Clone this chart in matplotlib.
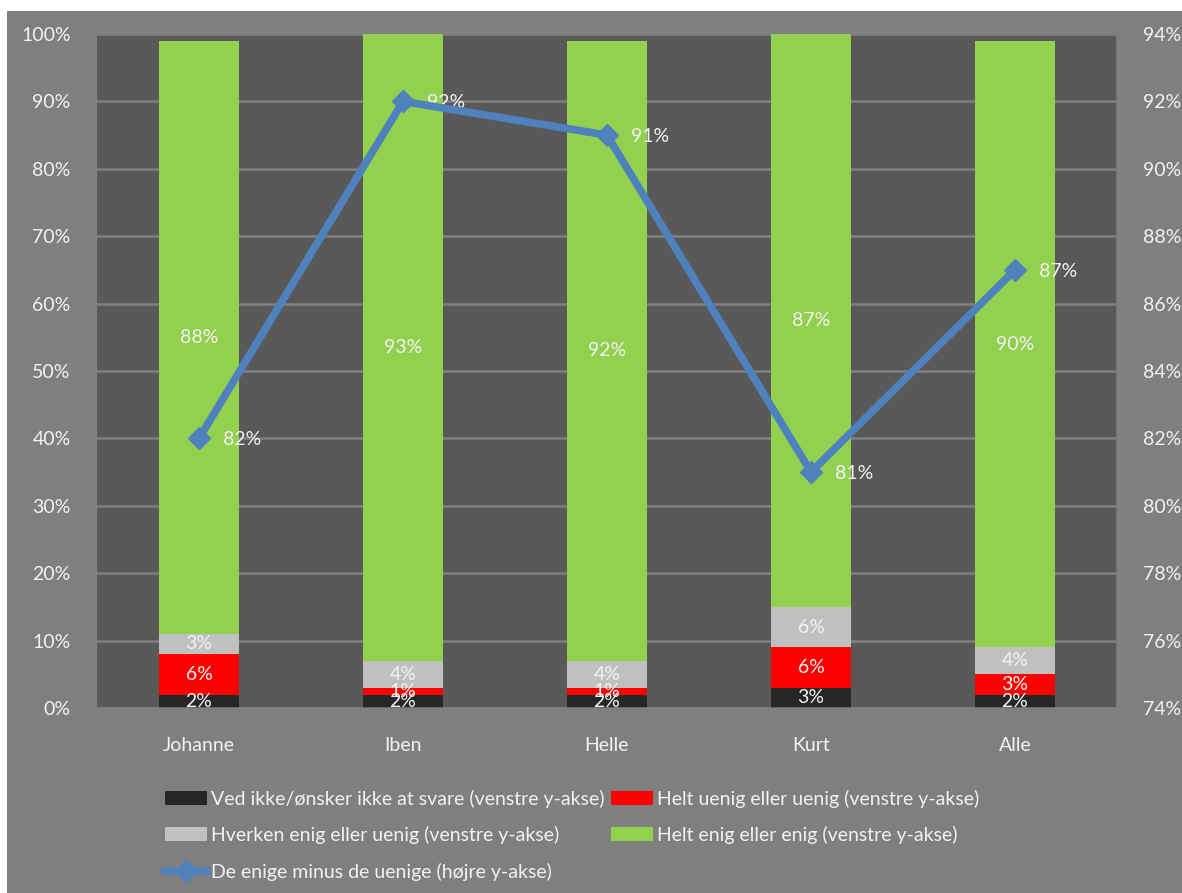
import matplotlib
matplotlib.use("Agg")
import matplotlib.pyplot as plt
import numpy as np
from matplotlib.patches import Rectangle

plt.rcParams["font.family"] = ["Lato", "DejaVu Sans"]

names = ["Johanne", "Iben", "Helle", "Kurt", "Alle"]
ved_ikke = [2, 2, 2, 3, 2]
uenig = [6, 1, 1, 6, 3]
hverken = [3, 4, 4, 6, 4]
enig = [88, 93, 92, 87, 90]
enige_minus_uenige = [82, 92, 91, 81, 87]

series = [
    (ved_ikke, "#262626", "Ved ikke/ønsker ikke at svare (venstre y-akse)"),
    (uenig, "#ff0000", "Helt uenig eller uenig (venstre y-akse)"),
    (hverken, "#c0c0c0", "Hverken enig eller uenig (venstre y-akse)"),
    (enig, "#92d050", "Helt enig eller enig (venstre y-akse)"),
]

text_col = "#f2f2f2"
grid_col = "#808080"
fs = 14

fig = plt.figure(figsize=(11.82, 8.93), dpi=100, facecolor="white")
fig.patches.append(Rectangle((7 / 1182, 0), 1, 1 - 11 / 893, transform=fig.transFigure,
                             facecolor="#7f7f7f", edgecolor="none", zorder=-10))

ax = fig.add_axes([97 / 1182, 1 - 708 / 893, 1020 / 1182, 674 / 893])
ax.set_facecolor("#595959")

x = np.arange(len(names))
bottom = np.zeros(len(names))
handles = []
for vals, col, lab in series:
    bars = ax.bar(x, vals, 0.39, bottom=bottom, color=col, label=lab, zorder=2)
    ax.bar_label(bars, labels=["%d%%" % v for v in vals], label_type="center",
                 color=text_col, fontsize=fs)
    bottom += np.array(vals)
    handles.append(bars)

ax.set_xlim(-0.5, len(names) - 0.5)
ax.set_ylim(0, 100)
ax.set_yticks(np.arange(0, 101, 10))
ax.set_yticklabels(["%d%%" % v for v in range(0, 101, 10)])
ax.set_xticks(x)
ax.set_xticklabels(names)
ax.grid(axis="y", color=grid_col, linewidth=1.8, zorder=0)
ax.set_axisbelow(True)
ax.tick_params(axis="y", colors=grid_col, labelcolor=text_col, labelsize=fs,
               length=7, width=1.8, pad=12)
ax.tick_params(axis="x", length=0, labelcolor=text_col, labelsize=fs, pad=21)
for s in ["top", "left", "right"]:
    ax.spines[s].set_visible(False)
ax.spines["bottom"].set_color(grid_col)
ax.spines["bottom"].set_linewidth(1.8)

ax2 = ax.twinx()
line, = ax2.plot(x, enige_minus_uenige, color="#4f81bd", linewidth=5.5, marker="D",
                 markersize=11, label="De enige minus de uenige (højre y-akse)", zorder=5)
for xi, v in zip(x, enige_minus_uenige):
    ax2.annotate("%d%%" % v, (xi, v), xytext=(17, -1), textcoords="offset points",
                 ha="left", va="center", color=text_col, fontsize=fs)
ax2.set_ylim(74, 94)
ax2.set_yticks(np.arange(74, 95, 2))
ax2.set_yticklabels(["%d%%" % v for v in range(74, 95, 2)])
ax2.tick_params(axis="y", colors=grid_col, labelcolor=text_col, labelsize=fs,
                length=7, width=1.8, pad=12)
for s in ["top", "left", "bottom"]:
    ax2.spines[s].set_visible(False)
ax2.spines["right"].set_color(grid_col)
ax2.spines["right"].set_linewidth(1.8)

order = [handles[0], handles[2], line, handles[1], handles[3]]
fig.legend(order, [h.get_label() for h in order], ncol=2, loc="upper left",
           bbox_to_anchor=(147 / 1182, 1 - 772 / 893), frameon=False,
           labelcolor=text_col, fontsize=fs, handlelength=2.2, handleheight=0.7,
           handletextpad=0.2, columnspacing=0.3, labelspacing=0.95)

plt.savefig("out.png", dpi=100, facecolor=fig.get_facecolor())
